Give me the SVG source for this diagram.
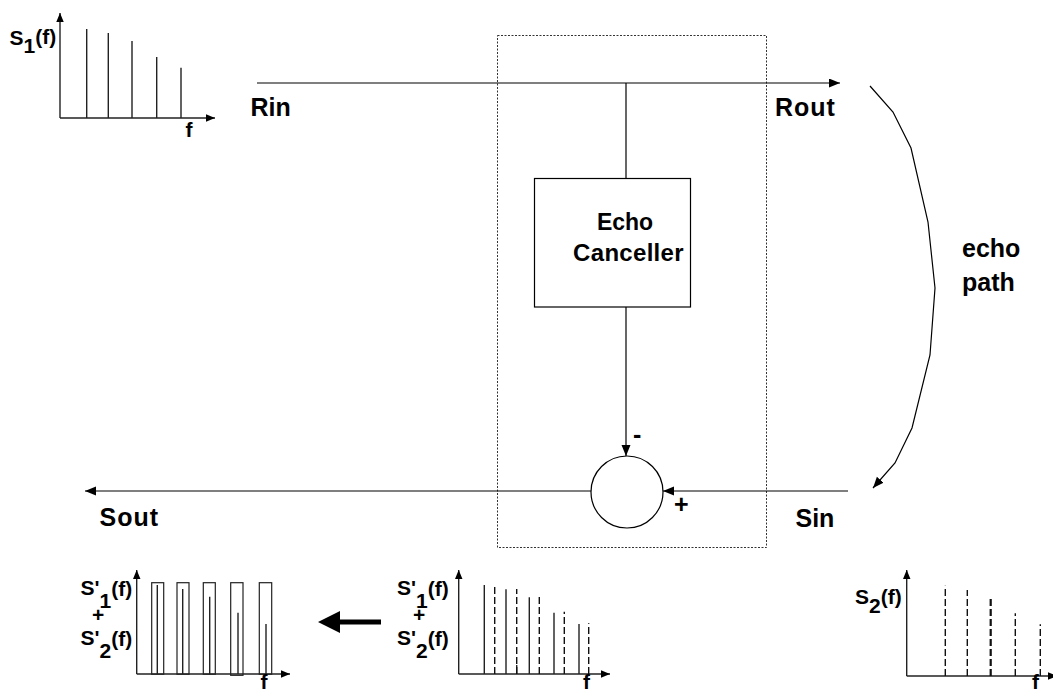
<svg xmlns="http://www.w3.org/2000/svg" width="1053" height="691" viewBox="0 0 1053 691">
<style>
  .ln{stroke:#000;stroke-width:1.2;fill:none}
  .ax{stroke:#222;stroke-width:1.4;fill:none}
  .sp{stroke:#222;stroke-width:1.4;fill:none}
  .dsh{stroke:#111;stroke-width:1.4;fill:none;stroke-dasharray:7,3}
  .lbl{font-family:"Liberation Sans",Arial,sans-serif;font-weight:bold;font-size:25px;fill:#000}
  .sl{font-family:"Liberation Sans",Arial,sans-serif;font-weight:bold;font-size:21px;fill:#000}
</style>
<defs>
  <marker id="arr" markerWidth="12" markerHeight="10" refX="11" refY="4.5" orient="auto" markerUnits="userSpaceOnUse">
    <path d="M0,0 L11,4.5 L0,9 z" fill="#000"/>
  </marker>
  <marker id="ax" markerWidth="10" markerHeight="8" refX="9" refY="3.75" orient="auto" markerUnits="userSpaceOnUse">
    <path d="M0,0 L9,3.75 L0,7.5 z" fill="#000"/>
  </marker>
</defs>

<g id="boundary">
  <rect x="497.5" y="35.5" width="269" height="512" fill="none" stroke="#333" stroke-width="1" stroke-dasharray="2,1.5"/>
</g>

<g id="connectors">
  <path class="ln" d="M257,83 H840" marker-end="url(#arr)"/>
  <path class="ln" d="M626,83 V178"/>
  <path class="ln" d="M626,307 V456" marker-end="url(#arr)"/>
  <path class="ln" d="M848,491 H663" marker-end="url(#arr)"/>
  <path class="ln" d="M591,491 H85" marker-end="url(#arr)"/>
  <polyline class="ln" points="870,86 893,112 911,148 928,222 935,288 930,355 912,428 895,463 873,488" marker-end="url(#arr)"/>
</g>

<g id="echo-canceller">
  <rect x="534.5" y="178.5" width="156" height="128.5" fill="#fff" stroke="#000" stroke-width="1.2"/>
  <text class="lbl" x="625" y="229.5" text-anchor="middle" style="font-size:23px">Echo</text>
  <text class="lbl" x="628.5" y="260.5" text-anchor="middle" style="font-size:24px;letter-spacing:0.3px">Canceller</text>
</g>

<g id="summer">
  <circle cx="627" cy="492" r="36" fill="none" stroke="#000" stroke-width="1.2"/>
  <text class="lbl" x="633" y="443">-</text>
  <text class="lbl" x="674" y="513">+</text>
</g>

<g id="labels">
  <text class="lbl" x="250.5" y="116">Rin</text>
  <text class="lbl" x="775" y="116" style="letter-spacing:1px">Rout</text>
  <text class="lbl" x="99.5" y="526" style="letter-spacing:1px">Sout</text>
  <text class="lbl" x="795.5" y="526.5">Sin</text>
  <text class="lbl" x="962" y="257">echo</text>
  <text class="lbl" x="962" y="291">path</text>
</g>

<g id="spectrum-s1">
  <path class="ax" d="M60,118 V13" marker-end="url(#ax)"/>
  <path class="ax" d="M60,118 H215" marker-end="url(#ax)"/>
  <path class="sp" d="M86.7,118 V29 M108.3,118 V33 M132,118 V41 M156.7,118 V57 M181,118 V67.7"/>
  <text class="sl" x="9.5" y="45">S<tspan dy="8">1</tspan><tspan dy="-9">(f)</tspan></text>
  <text class="sl" x="185.5" y="137">f</text>
</g>

<g id="spectrum-out">
  <path class="ax" d="M136.7,674 V570" marker-end="url(#ax)"/>
  <path class="ax" d="M136.7,674 H290" marker-end="url(#ax)"/>
  <g fill="none" stroke="#222" stroke-width="1.2">
    <rect x="151.7" y="582.7" width="12" height="91.5"/>
    <rect x="177" y="582.7" width="12" height="91.5"/>
    <rect x="203.3" y="582.7" width="12" height="91.5"/>
    <rect x="230.7" y="582.7" width="12.3" height="92.6"/>
    <rect x="259.3" y="582.7" width="12.4" height="91.5"/>
  </g>
  <path class="sp" d="M157.3,674 V585 M182.7,674 V589 M209.7,674 V596.7 M238,674 V612.7 M266,674 V624"/>
  <text class="sl" x="80.5" y="595">S'<tspan dy="13">1</tspan><tspan dy="-12">(f)</tspan></text>
  <text class="sl" x="92" y="622">+</text>
  <text class="sl" x="80.5" y="645">S'<tspan dy="13">2</tspan><tspan dy="-12">(f)</tspan></text>
  <text class="sl" x="260.5" y="689">f</text>
</g>

<g id="big-arrow">
  <polygon points="318,622 340,611 340,619.5 381,619.5 381,624.5 340,624.5 340,633" fill="#000"/>
</g>

<g id="spectrum-mid">
  <path class="ax" d="M458.7,674 V570" marker-end="url(#ax)"/>
  <path class="ax" d="M458.7,674 H610" marker-end="url(#ax)"/>
  <path class="sp" d="M484.3,674 V585 M506,674 V589.3 M529.3,674 V597.3 M554,674 V612.7 M579,674 V624 M516.7,674 V665"/>
  <path class="dsh" d="M494.7,674 V584 M516.7,674 V589 M539.3,674 V596.7 M564.3,674 V611.7 M588.7,674 V623.3"/>
  <text class="sl" x="397" y="595">S'<tspan dy="13">1</tspan><tspan dy="-12">(f)</tspan></text>
  <text class="sl" x="413" y="622">+</text>
  <text class="sl" x="397" y="645">S'<tspan dy="13">2</tspan><tspan dy="-12">(f)</tspan></text>
  <text class="sl" x="583" y="689">f</text>
</g>

<g id="spectrum-s2">
  <path class="ax" d="M906.7,676 V570" marker-end="url(#ax)"/>
  <path class="ax" d="M906.7,676 H1057" marker-end="url(#ax)"/>
  <path class="dsh" d="M945.3,676 V585.7 M967.3,676 V590 M1015.3,676 V613.3 M1040.3,676 V624.3"/>
  <path class="dsh" style="stroke-width:2.2" d="M990.7,676 V597.7"/>
  <text class="sl" x="855" y="604">S<tspan dy="9">2</tspan><tspan dy="-9">(f)</tspan></text>
  <text class="sl" x="1032" y="689">f</text>
</g>
</svg>
